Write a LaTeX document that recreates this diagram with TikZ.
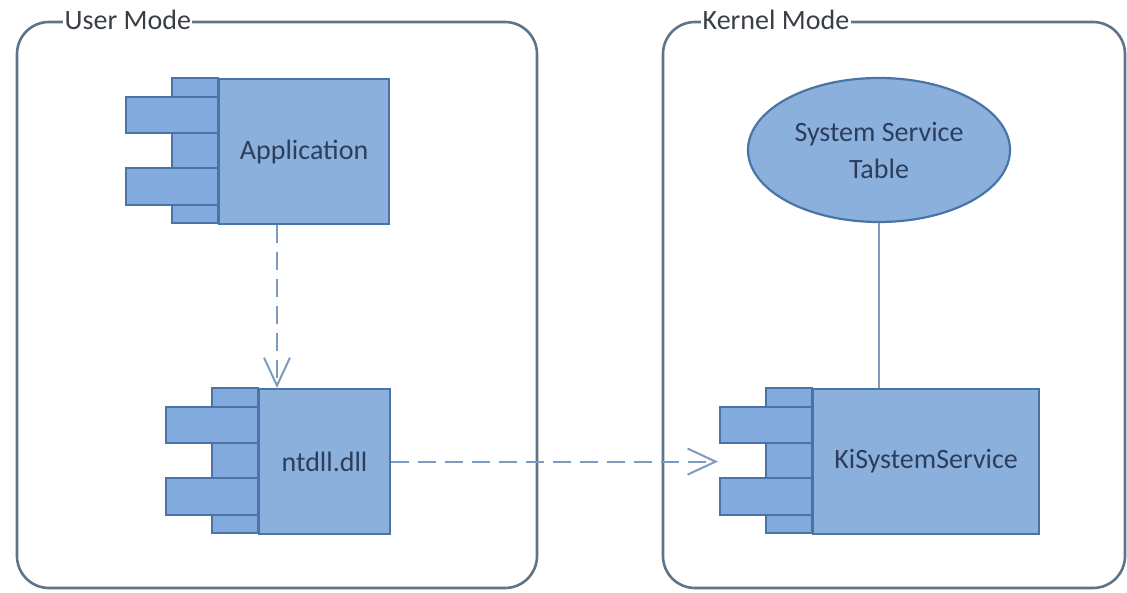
\documentclass[tikz,border=0pt]{standalone}
\usepackage{fontspec}
\setmainfont{Carlito}
\usetikzlibrary{arrows.meta,shapes.geometric,calc}
\definecolor{mainfill}{HTML}{8CB0DC}
\definecolor{tabfill}{HTML}{82AADD}
\definecolor{compline}{HTML}{4A74A6}
\definecolor{comptext}{HTML}{2B3E5C}
\definecolor{contline}{HTML}{5E7488}
\definecolor{conttext}{HTML}{3A3F45}
\definecolor{depline}{HTML}{7D9BBD}
\tikzset{
  container/.style={draw=contline, line width=2.6pt, rounded corners=32pt},
  contlabel/.style={fill=white, inner sep=1.5pt, text=conttext, font=\fontsize{28}{34}\selectfont},
  mainbox/.style={draw=compline, fill=mainfill, line width=2.2pt, rectangle, inner sep=0pt,
    text=comptext, font=\fontsize{28}{37}\selectfont},
  partbox/.style={draw=compline, fill=tabfill, line width=2.2pt},
  ellbox/.style={draw=compline, fill=mainfill, line width=2.2pt, ellipse, inner sep=0pt,
    minimum width=262pt, minimum height=144pt, align=center, text=comptext,
    font=\fontsize{28}{37}\selectfont},
  dep/.style={draw=depline, line width=2pt, dash pattern=on 18pt off 9pt,
    -{Straight Barb[length=28pt,width=26pt]}},
  assoc/.style={draw=depline, line width=2pt},
}
% name, main left x, right x, top y, label
\newcommand\mkcomp[5]{%
  \draw[partbox] (#2-46,#4) rectangle (#2,#4+145);
  \draw[partbox] (#2-92,#4+19) rectangle (#2,#4+55);
  \draw[partbox] (#2-92,#4+90) rectangle (#2,#4+127);
  \node[mainbox, anchor=north west, minimum width={(#3-#2)*1pt}, minimum height=145pt] (#1) at (#2,#4) {#5};
}
\begin{document}
\begin{tikzpicture}[x=1pt,y=-1pt]
  \useasboundingbox[fill=white] (0,0) rectangle (1127,593);
  % containers
  \draw[container] (17,22) rectangle (537,588);
  \node[contlabel, anchor=base west] (userlbl) at (63,30) {User Mode};
  \draw[container] (663,22) rectangle (1125,588);
  \node[contlabel, anchor=base west] (kernlbl) at (701,30) {Kernel Mode};
  % components
  \mkcomp{app}{218}{388}{78}{Application}
  \mkcomp{ntdll}{258}{389}{388}{ntdll.dll}
  \mkcomp{ki}{812}{1038}{388}{KiSystemService}
  \node[ellbox] (sst) at (879,150) {System Service\\Table};
  % helper coordinates
  \coordinate (arrx) at (277,0);
  \coordinate (kitab) at (718,0);
  % connectors
  \draw[dep] (app.south -| arrx) -- (ntdll.north -| arrx);
  \draw[dep] (ntdll.east) -- (ntdll.east -| kitab);
  \draw[assoc] (sst.south) -- (sst.south |- ki.north);
\end{tikzpicture}
\end{document}
